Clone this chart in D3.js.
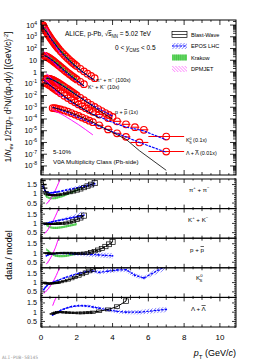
<!DOCTYPE html>
<html><head><meta charset="utf-8">
<script src="https://cdn.jsdelivr.net/npm/d3@7"></script>
<style>
body{margin:0;background:#fff;}
svg{display:block;font-family:"Liberation Sans",Arial,Helvetica,sans-serif;}
</style></head><body>
<svg id="c" width="266" height="362"></svg>
<script>
// ---------------- DATA ----------------
const scaleFactors = [100, 10, 1, 0.1, 0.01];
const scaleLabels = ["(100x)", "(10x)", "(1x)", "(0.1x)", "(0.01x)"];

const piPt = [0.11,0.13,0.15,0.17,0.19,0.22,0.26,0.3,0.35,0.4,0.45,0.5,0.55,0.6,0.65,0.7,0.75,0.8,0.85,0.9,0.95,1.0,1.1,1.2,1.3,1.4,1.5,1.6,1.7,1.8,1.9,2.0,2.2,2.4,2.6,2.8,3.0];
const piY  = [100,86,74,64,56,46,36,28,21,15.8,12,9.2,7.1,5.5,4.3,3.4,2.7,2.15,1.72,1.38,1.11,0.9,0.6,0.41,0.285,0.2,0.143,0.104,0.076,0.056,0.042,0.032,0.0188,0.0114,0.0072,0.0046,0.003];

const kPt = [0.2,0.25,0.3,0.35,0.4,0.45,0.5,0.55,0.6,0.65,0.7,0.75,0.8,0.85,0.9,0.95,1.0,1.1,1.2,1.3,1.4,1.5,1.6,1.7,1.8,1.9,2.0,2.2,2.4];
const kY  = [2.4,2.25,2.1,1.93,1.75,1.57,1.4,1.24,1.09,0.96,0.84,0.73,0.635,0.55,0.48,0.415,0.36,0.27,0.2,0.15,0.113,0.085,0.065,0.05,0.038,0.03,0.0235,0.0146,0.0093];

const pPt = [0.3,0.35,0.4,0.45,0.5,0.55,0.6,0.65,0.7,0.75,0.8,0.85,0.9,0.95,1.0,1.1,1.2,1.3,1.4,1.5,1.6,1.7,1.8,1.9,2.0,2.2,2.4,2.6,2.8,3.0,3.2,3.4,3.6,3.8,4.0];
const pY  = [0.28,0.28,0.275,0.265,0.255,0.24,0.225,0.21,0.195,0.178,0.162,0.147,0.133,0.12,0.108,0.087,0.069,0.055,0.0435,0.0343,0.027,0.0212,0.0167,0.0131,0.0103,0.0064,0.004,0.0025,0.0016,0.00105,0.0007,0.00047,0.00032,0.00022,0.00015];

const k0Edges = [0.1,0.2,0.3,0.4,0.5,0.6,0.7,0.8,0.9,1.0,1.2,1.4,1.6,1.8,2.0,2.2,2.4,2.6,2.8,3.0,3.5,4.0,4.5,5.0,5.5,6.0,8.0];
const k0Pt = [0.15,0.25,0.35,0.45,0.55,0.65,0.75,0.85,0.95,1.1,1.3,1.5,1.7,1.9,2.1,2.3,2.5,2.7,2.9,3.25,3.75,4.25,4.75,5.25,5.75,7.0];
const k0Y  = [1.25,1.15,0.98,0.8,0.63,0.49,0.38,0.29,0.225,0.155,0.095,0.06,0.039,0.026,0.0175,0.012,0.0083,0.0058,0.0041,0.0024,0.0012,0.00063,0.00035,0.0002,0.00012,0.000032];

const lamEdges = [0.6,0.7,0.8,0.9,1.0,1.2,1.4,1.6,1.8,2.0,2.2,2.4,2.6,2.8,3.0,3.5,4.0,4.5,5.0,6.0,8.0];
const lamPt = [0.65,0.75,0.85,0.95,1.1,1.3,1.5,1.7,1.9,2.1,2.3,2.5,2.7,2.9,3.25,3.75,4.25,4.75,5.5,7.0];
const lamY  = [0.085,0.083,0.079,0.074,0.065,0.053,0.042,0.032,0.024,0.018,0.0133,0.0098,0.0072,0.0053,0.0029,0.0013,0.0006,0.0003,0.0001,0.000017];

// data / model ratios
const bwPiPt = [0.11,0.15,0.19,0.26,0.35,0.45,0.55,0.65,0.75,0.9,1.0,1.2,1.4,1.6,1.8,2.0,2.2,2.4,2.6,2.8,3.0];
const bwPiR  = [1.72,1.5,1.3,1.1,0.98,0.94,0.93,0.92,0.92,0.93,0.95,0.98,1.02,1.07,1.12,1.18,1.25,1.33,1.42,1.5,1.58];
const bwPiE  = [0.02,0.02,0.02,0.02,0.03,0.03,0.03,0.03,0.04,0.04,0.05,0.05,0.06,0.07,0.08,0.09,0.1,0.11,0.12,0.13,0.14];
const eposPiPt = [0.11,0.15,0.22,0.3,0.4,0.5,0.6,0.7,0.8,0.9,1.0,1.2,1.4,1.6,1.8,2.0,2.2,2.4,2.6,2.8,3.0];
const eposPiR  = [1.42,1.3,1.18,1.1,1.06,1.05,1.06,1.07,1.09,1.1,1.12,1.16,1.2,1.24,1.28,1.32,1.36,1.4,1.45,1.5,1.55];
const eposPiE  = [0.04,0.04,0.04,0.04,0.04,0.04,0.04,0.05,0.05,0.05,0.06,0.06,0.07,0.08,0.09,0.1,0.11,0.12,0.14,0.16,0.18];
const krPiPt = [0.22,0.3,0.4,0.5,0.6,0.7,0.8,0.9,1.0,1.2,1.4,1.6,1.8,2.0,2.2];
const krPiR  = [0.95,0.85,0.8,0.77,0.76,0.76,0.77,0.79,0.82,0.88,0.95,1.03,1.12,1.2,1.28];
const dpPiPt = [0.3,0.4,0.5,0.6,0.7,0.8,0.9,1.0,1.1];
const dpPiR  = [0.45,0.55,0.68,0.82,1.0,1.18,1.4,1.62,1.85];

const bwKPt = [0.2,0.3,0.4,0.5,0.6,0.7,0.8,0.9,1.0,1.2,1.4,1.6,1.8,2.0,2.2,2.4];
const bwKR  = [1.0,0.98,0.97,0.97,0.97,0.97,0.98,0.98,0.99,1.0,1.02,1.06,1.12,1.2,1.3,1.42];
const bwKE  = [0.03,0.03,0.03,0.03,0.03,0.03,0.04,0.04,0.05,0.05,0.06,0.07,0.08,0.1,0.12,0.14];
const eposKPt = [0.2,0.3,0.4,0.5,0.6,0.8,1.0,1.2,1.4,1.6,1.8,2.0,2.2,2.4];
const eposKR  = [0.95,1.0,1.03,1.05,1.08,1.12,1.16,1.2,1.24,1.28,1.32,1.36,1.4,1.45];
const eposKE  = [0.04,0.04,0.04,0.05,0.05,0.06,0.07,0.08,0.1,0.12,0.14,0.17,0.2,0.24];
const krKPt = [0.3,0.4,0.5,0.6,0.7,0.8,0.9,1.0,1.2,1.4,1.6,1.8,2.0];
const krKR  = [0.92,0.85,0.8,0.77,0.76,0.76,0.76,0.77,0.8,0.84,0.88,0.92,0.96];
const dpKPt = [0.2,0.3,0.4,0.5,0.6,0.7,0.8,0.9,1.0];
const dpKR  = [0.45,0.55,0.68,0.85,1.0,1.18,1.38,1.6,1.85];

const bwPPt = [0.3,0.4,0.5,0.6,0.8,1.0,1.2,1.4,1.6,1.8,2.0,2.2,2.4,2.6,2.8,3.0,3.2,3.4,3.6,3.8,4.0];
const bwPR  = [1.0,0.98,0.97,0.97,0.98,0.99,1.0,1.0,1.0,0.99,0.98,0.98,0.99,1.0,1.05,1.1,1.17,1.25,1.35,1.47,1.6];
const bwPE  = [0.03,0.03,0.03,0.03,0.03,0.03,0.04,0.04,0.04,0.05,0.05,0.06,0.06,0.07,0.08,0.09,0.1,0.11,0.12,0.13,0.14];
const eposPPt = [0.3,0.4,0.5,0.6,0.8,1.0,1.2,1.4,1.6,1.8,2.0,2.4,2.8,3.2,3.6,4.0];
const eposPR  = [0.85,0.9,0.93,0.95,0.97,0.98,0.98,0.98,0.97,0.96,0.95,0.94,0.92,0.9,0.87,0.85];
const eposPE  = [0.04,0.04,0.04,0.04,0.05,0.05,0.06,0.07,0.08,0.09,0.1,0.11,0.12,0.13,0.14,0.15];
const krPPt = [0.3,0.4,0.5,0.6,0.7,0.8,0.9,1.0,1.2,1.4,1.6,1.8,2.0];
const krPR  = [1.2,1.12,1.03,0.96,0.9,0.86,0.84,0.83,0.83,0.85,0.88,0.92,0.97];
const dpPPt = [0.3,0.4,0.5,0.6,0.7,0.8,0.9,1.0];
const dpPR  = [0.4,0.52,0.68,0.85,1.05,1.28,1.55,1.85];

const bwK0Pt = [0.15,0.25,0.35,0.45,0.55,0.65,0.75,0.85,0.95,1.1,1.3,1.5,1.7,1.9,2.1,2.3,2.5,2.7,2.9,3.25];
const bwK0R  = [1.0,0.97,0.95,0.95,0.95,0.96,0.97,0.98,1.0,1.03,1.08,1.13,1.2,1.28,1.36,1.45,1.54,1.63,1.72,1.88];
const bwK0E  = [0.03,0.03,0.03,0.03,0.03,0.03,0.03,0.03,0.04,0.04,0.04,0.05,0.05,0.06,0.07,0.08,0.09,0.1,0.11,0.12];
const eposK0Pt = [0.15,0.25,0.35,0.45,0.55,0.75,0.95,1.3,1.7,2.1,2.5,2.9,3.25,3.75,4.25,4.75,5.25,5.75,7.0];
const eposK0R  = [0.62,0.75,0.85,0.92,0.97,1.05,1.12,1.25,1.38,1.5,1.58,1.62,1.55,1.62,1.68,1.7,1.4,1.25,1.9];
const eposK0E  = [0.04,0.04,0.04,0.04,0.04,0.05,0.05,0.06,0.07,0.08,0.09,0.1,0.1,0.11,0.12,0.13,0.12,0.1,0.2];
const dpK0Pt = [0.15,0.25,0.35,0.45,0.55,0.65,0.75,0.85,0.95,1.1];
const dpK0R  = [0.42,0.5,0.6,0.72,0.86,1.0,1.18,1.38,1.6,1.95];

const bwLPt = [0.65,0.75,0.85,0.95,1.1,1.3,1.5,1.7,1.9,2.1,2.3,2.5,2.7,2.9,3.25,3.75,4.25,4.75,5.5,7.0];
const bwLR  = [0.9,0.95,0.98,1.0,1.0,0.99,0.98,0.97,0.96,0.96,0.96,0.97,0.98,1.0,1.05,1.15,1.3,1.6,5,40];
const bwLE  = [0.03,0.03,0.03,0.03,0.03,0.04,0.04,0.04,0.04,0.05,0.05,0.05,0.06,0.06,0.07,0.08,0.1,0.12,0.1,0.1];
const eposLPt = [0.65,0.75,0.85,0.95,1.1,1.3,1.5,1.7,1.9,2.1,2.3,2.5,2.7,2.9,3.25,3.75,4.25,4.75,5.5,7.0];
const eposLR  = [0.85,0.92,0.98,1.03,1.1,1.18,1.25,1.3,1.33,1.35,1.35,1.34,1.32,1.28,1.22,1.12,1.05,1.0,1.0,1.15];
const eposLE  = [0.04,0.04,0.04,0.04,0.05,0.05,0.05,0.06,0.06,0.06,0.07,0.07,0.08,0.08,0.09,0.1,0.1,0.11,0.12,0.15];
const dpLPt = [0.65,0.75,0.95,1.3,1.7,2.1,2.5,2.9];
const dpLR  = [1.35,1.6,2.0,2.8,4.0,5.5,8,12];

const xTickLabels = ["0","2","4","6","8","10"];
const ratioTickLabels = ["0.5","1","1.5"];

// ---------------- LAYOUT ----------------
const L = 41, R = 236, TT = 20, TB = 175, RT = 179, RH = 29.6;
const RED = "#ff0000", BLUE = "#0000ff", GREEN = "#33bb33", MAG = "#ff00ff";
const svg = d3.select("#c");
const defs = svg.append("defs");
function hatch(id, color, angle, sw) {
  const p = defs.append("pattern").attr("id", id).attr("patternUnits", "userSpaceOnUse")
    .attr("width", 2.2).attr("height", 2.2).attr("patternTransform", `rotate(${angle})`);
  p.append("line").attr("x1", 0).attr("y1", 0).attr("x2", 0).attr("y2", 2.2)
    .attr("stroke", color).attr("stroke-width", sw);
}
hatch("hEpos", BLUE, 45, 0.7);
hatch("hDp", MAG, -45, 0.7);
hatch("hKr", "#22aa22", 0, 0.6);

const x = d3.scaleLinear().domain([0, 10.9]).range([L, R]);
const yT = d3.scaleLog().domain([Math.pow(10, -8.77), Math.pow(10, 4.43)]).range([TB, TT]);

function clip(id, y0, y1) {
  defs.append("clipPath").attr("id", id).append("rect").attr("x", L).attr("y", y0).attr("width", R - L).attr("height", y1 - y0);
}
clip("cTop", TT, TB);

const species = [
  {pt: piPt, y: piY, bw: [bwPiPt, bwPiR, bwPiE], epos: [eposPiPt, eposPiR, eposPiE], kr: [krPiPt, krPiR], dp: [dpPiPt, dpPiR]},
  {pt: kPt, y: kY, bw: [bwKPt, bwKR, bwKE], epos: [eposKPt, eposKR, eposKE], kr: [krKPt, krKR], dp: [dpKPt, dpKR]},
  {pt: pPt, y: pY, bw: [bwPPt, bwPR, bwPE], epos: [eposPPt, eposPR, eposPE], kr: [krPPt, krPR], dp: [dpPPt, dpPR]},
  {pt: k0Pt, y: k0Y, edges: k0Edges, bw: [bwK0Pt, bwK0R, bwK0E], epos: [eposK0Pt, eposK0R, eposK0E], kr: null, dp: [dpK0Pt, dpK0R]},
  {pt: lamPt, y: lamY, edges: lamEdges, bw: [bwLPt, bwLR, bwLE], epos: [eposLPt, eposLR, eposLE], kr: null, dp: [dpLPt, dpLR]}
];

// ---------------- TOP PANEL ----------------
const gTop = svg.append("g").attr("clip-path", "url(#cTop)");
species.forEach((s, i) => {
  const f = scaleFactors[i];
  const g = gTop.append("g");
  if (s.edges) {
    s.pt.forEach((p, j) => {
      g.append("line").attr("x1", x(s.edges[j])).attr("x2", x(s.edges[j + 1]))
        .attr("y1", yT(s.y[j] * f)).attr("y2", yT(s.y[j] * f)).attr("stroke", RED).attr("stroke-width", 1.1);
    });
  }
  g.selectAll("circle").data(s.pt.map((p, j) => [p, s.y[j] * f])).join("circle")
    .attr("cx", d => x(d[0])).attr("cy", d => yT(d[1])).attr("r", 3.3)
    .attr("fill", "none").attr("stroke", RED).attr("stroke-width", 1.15);
});
function modelPts(s, m, f) {
  const map = new Map(s.pt.map((p, j) => [p, s.y[j]]));
  return m[0].map((p, j) => ({p, v: map.get(p) / m[1][j] * f, r: m[1][j], e: m[2] ? m[2][j] : 0, d: map.get(p) * f}));
}
const lineT = d3.line().x(d => x(d.p)).y(d => yT(d.v));
species.forEach((s, i) => {
  const f = scaleFactors[i];
  if (s.kr) gTop.append("path").attr("d", lineT(modelPts(s, s.kr, f))).attr("fill", "none")
    .attr("stroke", GREEN).attr("stroke-width", 1.4).attr("stroke-dasharray", "2.5,1.5");
  gTop.append("path").attr("d", lineT(modelPts(s, s.dp, f))).attr("fill", "none")
    .attr("stroke", MAG).attr("stroke-width", 0.9);
  const ep = modelPts(s, s.epos, f);
  gTop.append("path").attr("d", d3.area().x(d => x(d.p)).y0(d => yT(d.d / (d.r + d.e))).y1(d => yT(d.d / (d.r - d.e)))(ep))
    .attr("fill", "url(#hEpos)");
  gTop.append("path").attr("d", lineT(ep)).attr("fill", "none")
    .attr("stroke", BLUE).attr("stroke-width", 1.1).attr("stroke-dasharray", "2.5,1.2");
  gTop.append("path").attr("d", lineT(modelPts(s, s.bw, f))).attr("fill", "none")
    .attr("stroke", "#000").attr("stroke-width", 0.8);
});

// ---------------- RATIO PANELS ----------------
const ratioScales = species.map((s, i) => {
  const y0 = RT + i * RH;
  return d3.scaleLinear().domain([0.2, 1.8]).range([y0 + RH, y0]);
});
species.forEach((s, i) => {
  const yR = ratioScales[i];
  clip("cR" + i, yR.range()[1], yR.range()[0]);
  const g = svg.append("g").attr("clip-path", `url(#cR${i})`);
  const ln = d3.line().x(d => x(d[0])).y(d => yR(d[1]));
  if (s.kr) {
    const d = s.kr[0].map((p, j) => [p, s.kr[1][j]]);
    g.append("path").attr("d", d3.area().x(d => x(d[0])).y0(d => yR(d[1] - 0.06)).y1(d => yR(d[1] + 0.06))(d))
      .attr("fill", "#44cc44").attr("opacity", 0.85);
    g.append("path").attr("d", d3.area().x(d => x(d[0])).y0(d => yR(d[1] - 0.06)).y1(d => yR(d[1] + 0.06))(d))
      .attr("fill", "url(#hKr)");
  }
  {
    const d = s.dp[0].map((p, j) => [p, s.dp[1][j]]);
    g.append("path").attr("d", d3.area().x(d => x(d[0])).y0(d => yR(d[1] - 0.06)).y1(d => yR(d[1] + 0.06))(d))
      .attr("fill", "url(#hDp)");
    g.append("path").attr("d", ln(d)).attr("fill", "none").attr("stroke", MAG).attr("stroke-width", 0.9);
  }
  {
    const d = s.epos[0].map((p, j) => [p, s.epos[1][j], s.epos[2][j]]);
    g.append("path").attr("d", d3.area().x(d => x(d[0])).y0(d => yR(d[1] - d[2])).y1(d => yR(d[1] + d[2]))(d))
      .attr("fill", "url(#hEpos)");
    g.append("path").attr("d", ln(d)).attr("fill", "none").attr("stroke", BLUE)
      .attr("stroke-width", 1.2).attr("stroke-dasharray", "2.5,1.2");
    g.selectAll(".ed").data(d).join("circle").attr("cx", d => x(d[0])).attr("cy", d => yR(d[1]))
      .attr("r", 0.9).attr("fill", BLUE);
  }
  {
    const d = s.bw[0].map((p, j) => [p, s.bw[1][j], s.bw[2][j]]);
    g.append("path").attr("d", ln(d)).attr("fill", "none").attr("stroke", "#000").attr("stroke-width", 1);
    g.selectAll(".bb").data(d).join("rect")
      .attr("x", d => x(d[0]) - 2.6).attr("width", 5.2)
      .attr("y", d => yR(d[1] + d[2])).attr("height", d => yR(d[1] - d[2]) - yR(d[1] + d[2]))
      .attr("fill", "none").attr("stroke", "#000").attr("stroke-width", 0.7);
  }
});

// ---------------- AXES / FRAMES ----------------
const axG = svg.append("g");
function hLine(x1, x2, y) { axG.append("line").attr("x1", x1).attr("x2", x2).attr("y1", y).attr("y2", y).attr("stroke", "#000").attr("stroke-width", 0.8); }
function vLine(xx, y1, y2) { axG.append("line").attr("x1", xx).attr("x2", xx).attr("y1", y1).attr("y2", y2).attr("stroke", "#000").attr("stroke-width", 0.8); }
function frame(y0, y1) {
  axG.append("rect").attr("x", L).attr("y", y0).attr("width", R - L).attr("height", y1 - y0)
    .attr("fill", "none").attr("stroke", "#000").attr("stroke-width", 1);
}
function xTicks(y0, y1, maj, mnr) {
  for (let v = 0; v <= 10.9 + 1e-9; v += 0.5) {
    const isMaj = Math.abs(v / 2 - Math.round(v / 2)) < 1e-6;
    const isMid = Math.abs(v - Math.round(v)) < 1e-6;
    const len = isMaj ? maj : (isMid ? mnr : mnr * 0.6);
    vLine(x(v), y1, y1 - len);
    vLine(x(v), y0, y0 + len);
  }
}
// top panel
frame(TT, TB);
xTicks(TT, TB, 5, 3);
for (let e = -9; e <= 4; e++) {
  for (let k = 1; k <= 9; k++) {
    const v = k * Math.pow(10, e);
    const yy = yT(v);
    if (yy < TT - 0.1 || yy > TB + 0.1) continue;
    const len = k === 1 ? 6 : 3;
    hLine(L, L + len, yy);
    hLine(R - len, R, yy);
  }
}
const tl = svg.append("g").attr("font-size", 7.2);
for (let e = -8; e <= 4; e++) {
  const yy = yT(Math.pow(10, e));
  const t = tl.append("text").attr("x", 37).attr("y", yy + 2.5).attr("text-anchor", "end");
  if (e === 0) t.text("1");
  else if (e === 1) t.text("10");
  else { t.append("tspan").text("10"); t.append("tspan").attr("font-size", 5).attr("dy", -3).text(String(e)); }
}
// ratio panels
ratioScales.forEach((yR, i) => {
  const y0 = yR.range()[1], y1 = yR.range()[0];
  frame(y0, y1);
  xTicks(y0, y1, 4, 2.5);
  for (let v = 0.2; v <= 1.8 + 1e-9; v += 0.1) {
    const maj = Math.abs(v * 2 - Math.round(v * 2)) < 1e-6;
    const len = maj ? 4 : 2;
    hLine(L, L + len, yR(v));
    hLine(R - len, R, yR(v));
  }
  [0.5, 1, 1.5].forEach((v, j) => {
    tl.append("text").attr("x", 37).attr("y", yR(v) + 2.5).attr("text-anchor", "end").text(ratioTickLabels[j]);
  });
});
// x labels
xTickLabels.forEach((lab, j) => {
  svg.append("text").attr("x", x(j * 2)).attr("y", 340).attr("text-anchor", "middle").attr("font-size", 8).text(lab);
});

// ---------------- TEXT ----------------
function rich(x0, y0, parts, size, anchor, rot) {
  const t = svg.append("text").attr("x", x0).attr("y", y0).attr("font-size", size).attr("text-anchor", anchor || "start");
  if (rot) t.attr("transform", `rotate(${rot},${x0},${y0})`);
  let cur = 0;
  parts.forEach(p => {
    const [s, k, extra] = typeof p === "string" ? [p, "n"] : p;
    let off = 0, fs = size;
    if (k === "sub") { off = 0.3 * size; fs = 0.68 * size; }
    if (k === "sup") { off = -0.42 * size; fs = 0.68 * size; }
    const ts = t.append("tspan").attr("dy", off - cur).attr("font-size", fs).text(s);
    if (k === "i") ts.attr("font-style", "italic");
    if (k === "ol") ts.style("text-decoration", "overline");
    if (extra && extra.dx) ts.attr("dx", extra.dx);
    cur = off;
  });
  return t;
}
rich(65, 36, ["ALICE, p-Pb, ", "\u221A", ["s", "ol"], ["NN", "sub"], " = 5.02 TeV"], 6.5);
rich(115, 50, ["0 < ", ["y", "i"], ["CMS", "sub"], " < 0.5"], 6.5);
rich(96, 82, ["\u03C0", ["+", "sup"], " + \u03C0", ["\u2212", "sup"], " " + scaleLabels[0]], 5.4);
rich(88, 89, ["K", ["+", "sup"], " + K", ["\u2212", "sup"], " " + scaleLabels[1]], 5.4);
rich(115, 114, ["p + ", ["p", "ol"], " " + scaleLabels[2]], 5.4);
rich(186, 142, ["K", ["0", "sup"], ["S", "sub", {dx: -2.5}], " " + scaleLabels[3]], 5.4);
rich(186, 155, ["\u039B + ", ["\u039B", "ol"], " " + scaleLabels[4]], 5.4);
rich(53, 154, ["5-10%"], 6.2);
rich(53, 164, ["V0A Multiplicity Class (Pb-side)"], 6.2);

// ratio panel labels
rich(189, 192, ["\u03C0", ["+", "sup"], " + \u03C0", ["\u2212", "sup"]], 6.2);
rich(188, 222, ["K", ["+", "sup"], " + K", ["\u2212", "sup"]], 6.2);
rich(190, 252, ["p + ", ["p", "ol"]], 6.2);
rich(196, 280, ["K", ["0", "sup"], ["S", "sub", {dx: -2.9}]], 6.2);
rich(191, 311, ["\u039B + ", ["\u039B", "ol"]], 6.2);

// legend
const lg = svg.append("g");
const legY = [34.5, 46, 57.5, 69];
lg.append("rect").attr("x", 172).attr("y", legY[0] - 3).attr("width", 15).attr("height", 6).attr("fill", "#fff").attr("stroke", "#000").attr("stroke-width", 0.7);
lg.append("line").attr("x1", 172).attr("x2", 187).attr("y1", legY[0]).attr("y2", legY[0]).attr("stroke", "#000").attr("stroke-width", 0.7);
lg.append("rect").attr("x", 172).attr("y", legY[1] - 3).attr("width", 15).attr("height", 6).attr("fill", "url(#hEpos)");
lg.append("line").attr("x1", 172).attr("x2", 187).attr("y1", legY[1]).attr("y2", legY[1]).attr("stroke", BLUE).attr("stroke-width", 1.2).attr("stroke-dasharray", "2.5,1.2");
lg.append("rect").attr("x", 172).attr("y", legY[2] - 3).attr("width", 15).attr("height", 6).attr("fill", "#44cc44").attr("opacity", 0.85);
lg.append("rect").attr("x", 172).attr("y", legY[2] - 3).attr("width", 15).attr("height", 6).attr("fill", "url(#hKr)");
lg.append("rect").attr("x", 172).attr("y", legY[3] - 3).attr("width", 15).attr("height", 6).attr("fill", "url(#hDp)");
["Blast-Wave", "EPOS LHC", "Krakow", "DPMJET"].forEach((s, j) => {
  lg.append("text").attr("x", 191).attr("y", legY[j] + 2).attr("font-size", 5.6).text(s);
});

// axis titles
rich(11, 97, ["1/", ["N", "i"], ["ev", "sub"], " 1/2\u03C0", ["p", "i"], ["T", "sub"], " d", ["2", "sup"], ["N", "n"], "/(d", ["p", "i"], ["T", "sub"], "d", ["y", "i"], ") [(GeV/", ["c", "i"], ")", ["-2", "sup"], "]"], 8.2, "middle", -90);
rich(12, 255, ["data / model"], 9, "middle", -90);
rich(236, 356, [["p", "i"], ["T", "sub"], " (GeV/", ["c", "i"], ")"], 9, "end");
svg.append("text").attr("x", 2).attr("y", 359).attr("font-size", 4.6).attr("fill", "#999")
  .attr("font-family", "DejaVu Sans Mono, monospace").text("ALI-PUB-58145");
</script>
</body></html>
